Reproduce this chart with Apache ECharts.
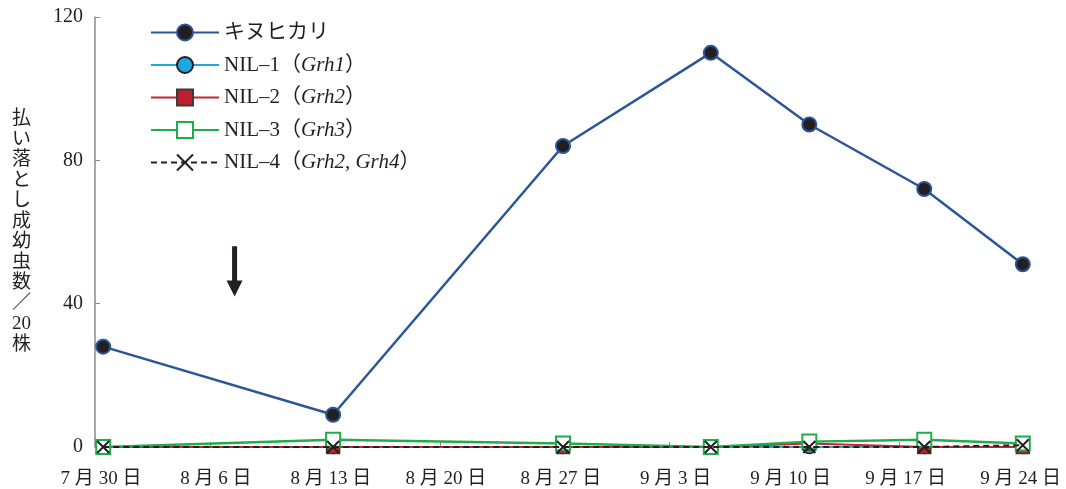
<!DOCTYPE html>
<html>
<head>
<meta charset="utf-8">
<script src="https://cdn.jsdelivr.net/npm/echarts@6/dist/echarts.min.js"></script>
<style>
  html, body { margin: 0; padding: 0; background: #fff; }
  #chart { width: 1066px; height: 489px; }
</style>
</head>
<body>
<div id="chart"></div>
<script>
// Survey dates (month/day) and counts of adults shaken off per 20 plants
const startDate = '7/30';
const sampleDates = ['7/30', '8/13', '8/27', '9/5', '9/11', '9/18', '9/24'];
const kinuhikari = [28, 9, 84, 110, 90, 72, 51];
const nil1 = [0, 0, 0, 0, 0, 0, 0];
const nil2 = [0, 0, 0, 0, 1, 0, 0];
const nil3 = [0, 2, 1, 0, 1.5, 2, 1];
const nil4 = [0, 0, 0, 0, 0, 0, 0.5];

const seriesNames = ['キヌヒカリ', 'NIL–1（Grh1）', 'NIL–2（Grh2）', 'NIL–3（Grh3）', 'NIL–4（Grh2, Grh4）'];
const xTickLabels = ['7 月 30 日', '8 月 6 日', '8 月 13 日', '8 月 20 日', '8 月 27 日',
                     '9 月 3 日', '9 月 10 日', '9 月 17 日', '9 月 24 日'];
const yTicks = [0, 40, 80, 120];
const yTitleLines = ['払', 'い', '落', 'と', 'し', '成', '幼', '虫', '数', '／', '20', '株'];

// Date of the treatment marked with an arrow, and the value range the arrow spans
const arrowDate = '8/7';
const arrowTop = 56;
const arrowTip = 42;

// Days since the first survey date (July has 31 days)
function dayOffset(md) {
  const [m, d] = md.split('/').map(Number);
  const [m0, d0] = startDate.split('/').map(Number);
  const monthStart = { 7: 0, 8: 31, 9: 62 };
  return (monthStart[m] + d) - (monthStart[m0] + d0);
}
// A day's point sits in the middle of that day on the date axis
const xs = sampleDates.map(d => dayOffset(d) + 0.5);
const pairs = vals => vals.map((v, i) => [xs[i], v]);

const serif = '"Liberation Serif", "DejaVu Serif", "Noto Sans CJK JP", serif';
const ink = '#231f20';
const axisGray = '#8a8a8a';

const chart = echarts.init(document.getElementById('chart'), null, { renderer: 'canvas' });

const baseSeries = {
  type: 'line',
  clip: false,
  animation: false,
  emphasis: { disabled: true }
};

// Axis spans 57 days; only whole weeks get a tick and a label
const axisDays = 57;
const isWeek = v => Math.abs(v / 7 - Math.round(v / 7)) < 1e-6;

const option = {
  backgroundColor: '#fff',
  animation: false,
  grid: { left: 95, width: 936, top: 17, bottom: 41.5, containLabel: false },
  legend: {
    orient: 'vertical',
    left: 145,
    top: 17,
    itemWidth: 68,
    itemHeight: 20,
    itemGap: 11.5,
    data: seriesNames,
    selectedMode: false,
    formatter: name => name.replace(/(Grh\d)/g, '{i|$1}'),
    textStyle: {
      fontFamily: serif,
      fontSize: 21,
      color: ink,
      lineHeight: 20,
      padding: [0, 0, 0, 0],
      rich: {
        i: { fontFamily: serif, fontStyle: 'italic', fontSize: 21, color: ink, lineHeight: 20 }
      }
    }
  },
  xAxis: {
    type: 'value',
    min: 0,
    max: axisDays,
    interval: 7,
    axisLine: { show: false },
    splitLine: { show: false },
    axisTick: {
      show: true, inside: true, length: 5,
      interval: (i, v) => isWeek(v),
      lineStyle: { color: axisGray, width: 1 }
    },
    axisLabel: {
      margin: 23,
      fontFamily: serif,
      fontSize: 19,
      color: ink,
      padding: [0, 0, 0, 12],
      showMaxLabel: false,
      formatter: v => (isWeek(v) ? (xTickLabels[Math.round(v / 7)] || '') : '')
    }
  },
  yAxis: {
    type: 'value',
    min: yTicks[0],
    max: yTicks[yTicks.length - 1],
    interval: yTicks[1] - yTicks[0],
    axisLine: { show: true, lineStyle: { color: axisGray, width: 1.5 } },
    splitLine: { show: false },
    axisTick: { show: true, inside: true, length: 5, lineStyle: { color: axisGray, width: 1 } },
    axisLabel: { margin: 12, fontFamily: serif, fontSize: 20, color: ink }
  },
  series: [
    Object.assign({}, baseSeries, {
      name: seriesNames[1],
      z: 2,
      data: pairs(nil1),
      symbol: 'circle',
      symbolSize: 13,
      lineStyle: { color: '#1fa8e0', width: 2 },
      itemStyle: { color: '#1fa8e0', borderColor: ink, borderWidth: 1.5 }
    }),
    Object.assign({}, baseSeries, {
      name: seriesNames[2],
      z: 3,
      data: pairs(nil2),
      symbol: 'rect',
      symbolSize: 13,
      lineStyle: { color: '#c7232e', width: 2 },
      itemStyle: { color: '#be1e2d', borderColor: '#3a3a3a', borderWidth: 1.5 }
    }),
    Object.assign({}, baseSeries, {
      name: seriesNames[3],
      z: 4,
      data: pairs(nil3),
      symbol: 'rect',
      symbolSize: 14,
      lineStyle: { color: '#1fac4b', width: 2.5 },
      itemStyle: { color: '#ffffff', borderColor: '#1fac4b', borderWidth: 2 }
    }),
    Object.assign({}, baseSeries, {
      name: seriesNames[4],
      z: 5,
      data: pairs(nil4),
      symbol: 'path://M0,0L10,10M10,0L0,10',
      symbolSize: 12,
      lineStyle: { color: ink, width: 2, type: [6, 4] },
      itemStyle: { color: ink, borderColor: ink, borderWidth: 2 }
    }),
    Object.assign({}, baseSeries, {
      name: seriesNames[0],
      z: 6,
      data: pairs(kinuhikari),
      symbol: 'circle',
      symbolSize: 14,
      lineStyle: { color: '#2a5597', width: 2.5 },
      itemStyle: { color: ink, borderColor: '#2a5597', borderWidth: 2 }
    })
  ]
};

chart.setOption(option);

// Vertical axis title and the treatment arrow, placed through the chart's own scales
function drawExtras() {
  const arrowX = dayOffset(arrowDate) + 0.5;
  const top = chart.convertToPixel({ gridIndex: 0 }, [arrowX, arrowTop]);
  const tip = chart.convertToPixel({ gridIndex: 0 }, [arrowX, arrowTip]);
  const cx = top[0];
  const headH = 16;
  const headW = 16;
  const shaftW = 5;
  chart.setOption({
    graphic: [
      {
        type: 'text',
        left: 12,
        top: 109,
        style: {
          text: yTitleLines.join('\n'),
          font: '19px ' + serif,
          fill: ink,
          align: 'center',
          lineHeight: 20.5,
          width: 22
        }
      },
      {
        type: 'polygon',
        silent: true,
        shape: {
          points: [
            [cx - shaftW / 2, top[1]],
            [cx + shaftW / 2, top[1]],
            [cx + shaftW / 2, tip[1] - headH],
            [cx + headW / 2, tip[1] - headH],
            [cx, tip[1]],
            [cx - headW / 2, tip[1] - headH],
            [cx - shaftW / 2, tip[1] - headH]
          ]
        },
        style: { fill: ink }
      }
    ]
  });
}
drawExtras();
</script>
</body>
</html>
